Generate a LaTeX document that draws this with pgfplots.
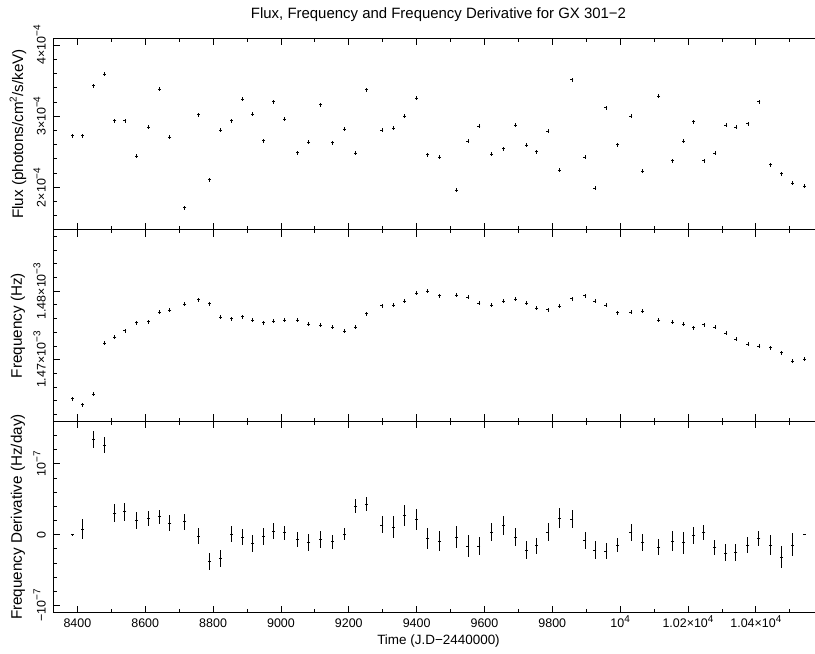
\documentclass[border=0pt]{standalone}
\usepackage{fontspec}
\setmainfont{Liberation Sans}
\usepackage{pgfplots}
\usepackage{pgfplotstable}
\pgfplotsset{compat=1.18}

% raised exponent, a little larger than \textsuperscript
\newcommand\sx[1]{\raisebox{0.42em}{\fontsize{10}{10}\selectfont #1}}

% time, flux, spin frequency, frequency derivative and its error
\pgfplotstableread{
t       flux      freq         dnu        dnuerr
8385.3  2.728e-4  1.464312e-3   0.000e-7  0.010e-7
8413.9  2.723e-4  1.463437e-3   0.080e-7  0.140e-7
8446.3  3.427e-4  1.464939e-3   1.348e-7  0.117e-7
8479.6  3.587e-4  1.472375e-3   1.263e-7  0.115e-7
8510.2  2.939e-4  1.473249e-3   0.306e-7  0.122e-7
8540.1  2.939e-4  1.474226e-3   0.324e-7  0.127e-7
8573.9  2.437e-4  1.475393e-3   0.207e-7  0.120e-7
8608.4  2.849e-4  1.475539e-3   0.231e-7  0.108e-7
8641.7  3.376e-4  1.476894e-3   0.254e-7  0.100e-7
8672.6  2.704e-4  1.477230e-3   0.165e-7  0.110e-7
8716.5  1.714e-4  1.478105e-3   0.183e-7  0.110e-7
8755.7  3.018e-4  1.478746e-3  -0.018e-7  0.108e-7
8788.1  2.108e-4  1.478163e-3  -0.380e-7  0.117e-7
8821.4  2.799e-4  1.476165e-3  -0.333e-7  0.120e-7
8853.5  2.934e-4  1.475976e-3   0.010e-7  0.113e-7
8885.4  3.235e-4  1.476268e-3  -0.032e-7  0.115e-7
8916.9  3.028e-4  1.475772e-3  -0.127e-7  0.124e-7
8947.3  2.658e-4  1.475393e-3  -0.023e-7  0.120e-7
8977.6  3.201e-4  1.475582e-3   0.052e-7  0.108e-7
9009.8  2.954e-4  1.475728e-3   0.028e-7  0.100e-7
9047.5  2.489e-4  1.475772e-3  -0.070e-7  0.108e-7
9081.9  2.634e-4  1.475189e-3  -0.113e-7  0.124e-7
9117.3  3.159e-4  1.474999e-3  -0.070e-7  0.117e-7
9151.5  2.630e-4  1.474707e-3  -0.099e-7  0.100e-7
9186.8  2.813e-4  1.474124e-3   0.010e-7  0.089e-7
9219.3  2.479e-4  1.474707e-3   0.404e-7  0.094e-7
9251.7  3.370e-4  1.476705e-3   0.432e-7  0.094e-7
9297.9  2.803e-4  1.477871e-3   0.137e-7  0.120e-7
9330.4  2.827e-4  1.477959e-3   0.108e-7  0.155e-7
9364.8  3.000e-4  1.478542e-3   0.268e-7  0.148e-7
9399.0  3.249e-4  1.479708e-3   0.217e-7  0.146e-7
9432.6  2.461e-4  1.480000e-3  -0.051e-7  0.150e-7
9468.0  2.427e-4  1.479329e-3  -0.089e-7  0.146e-7
9516.9  1.962e-4  1.479373e-3  -0.032e-7  0.153e-7
9551.4  2.652e-4  1.479081e-3  -0.159e-7  0.150e-7
9583.8  2.863e-4  1.478250e-3  -0.159e-7  0.130e-7
9621.3  2.465e-4  1.477959e-3   0.038e-7  0.130e-7
9655.4  2.545e-4  1.478498e-3   0.132e-7  0.134e-7
9690.8  2.873e-4  1.478834e-3  -0.032e-7  0.130e-7
9723.2  2.596e-4  1.478250e-3  -0.216e-7  0.122e-7
9753.9  2.503e-4  1.477478e-3  -0.155e-7  0.115e-7
9787.2  2.793e-4  1.477288e-3   0.038e-7  0.131e-7
9820.5  2.244e-4  1.477769e-3   0.231e-7  0.141e-7
9857.9  3.511e-4  1.478892e-3   0.221e-7  0.122e-7
9896.2  2.423e-4  1.479329e-3  -0.085e-7  0.124e-7
9925.7  1.990e-4  1.478498e-3  -0.216e-7  0.127e-7
9958.1  3.117e-4  1.477959e-3  -0.230e-7  0.110e-7
9992.6  2.601e-4  1.476851e-3  -0.145e-7  0.100e-7
10031.8 2.996e-4  1.476938e-3   0.028e-7  0.122e-7
10066.2 2.230e-4  1.477040e-3  -0.113e-7  0.117e-7
10113.4 3.282e-4  1.475772e-3  -0.178e-7  0.110e-7
10154.7 2.376e-4  1.475436e-3  -0.089e-7  0.146e-7
10185.9 2.652e-4  1.475145e-3  -0.113e-7  0.153e-7
10216.6 2.920e-4  1.474664e-3  -0.005e-7  0.120e-7
10246.9 2.376e-4  1.475101e-3   0.028e-7  0.110e-7
10279.3 2.483e-4  1.474751e-3  -0.183e-7  0.108e-7
10311.7 2.873e-4  1.473833e-3  -0.258e-7  0.120e-7
10341.2 2.845e-4  1.473002e-3  -0.254e-7  0.124e-7
10376.6 2.897e-4  1.472229e-3  -0.145e-7  0.110e-7
10409.0 3.201e-4  1.471981e-3  -0.051e-7  0.108e-7
10443.4 2.320e-4  1.471748e-3  -0.145e-7  0.136e-7
10474.7 2.193e-4  1.471019e-3  -0.314e-7  0.155e-7
10507.1 2.061e-4  1.469750e-3  -0.145e-7  0.162e-7
10542.5 2.014e-4  1.470042e-3   0.005e-7  0.010e-7
}\gxdata

\pgfplotsset{
  gxpanel/.style={
    scale only axis, width=770.4bp, height=191.5bp,
    xmin=8329, xmax=10600,
    xtick={8400,8600,8800,9000,9200,9400,9600,9800,10000,10200,10400},
    minor xtick={8500,8700,8900,9100,9300,9500,9700,9900,10100,10300,10500},
    scaled x ticks=false, scaled y ticks=false,
    tick align=inside,
    major tick length=7bp, minor tick length=3.5bp,
    every tick/.style={black, line width=0.8bp},
    axis line style={line width=0.9bp},
    tick label style={font=\fontsize{12.5}{14}\selectfont},
    label style={font=\fontsize{15.3}{17}\selectfont},
    yticklabel style={xshift=-4bp, rotate=90, anchor=south},
    ylabel style={at={(axis description cs:-0.0458,0.5)}, anchor=center},
    xticklabel style={text height=9bp, text depth=0pt, yshift=-2.5bp},
  },
  gxpoints/.style={black, only marks, mark=-, mark size=1.5bp,
    mark options={line width=0.8bp}},
}

\begin{document}
\begin{tikzpicture}
% frequency derivative
\begin{axis}[gxpanel, at={(0,0)},
    ymin=-1.103e-7, ymax=1.601e-7,
    ytick={-1e-7,0,1e-7},
    yticklabels={−10\sx{−7},0,10\sx{−7}},
    minor ytick={-0.8e-7,-0.6e-7,-0.4e-7,-0.2e-7,0.2e-7,0.4e-7,0.6e-7,0.8e-7,1.2e-7,1.4e-7,1.6e-7},
    xticklabels={8400,8600,8800,9000,9200,9400,9600,9800,10\sx{4},1.02×10\sx{4},1.04×10\sx{4}},
    xlabel={Time (J.D−2440000)},
    xlabel style={at={(axis description cs:0.5,0)}, anchor=center, yshift=-28.2bp,
      font=\fontsize{13.5}{16}\selectfont},
    ylabel={Frequency Derivative (Hz/day)}]
\addplot[gxpoints, error bars/.cd, y dir=both, y explicit, error mark=none,
    error bar style={line width=0.9bp}]
  table[x=t, y=dnu, y error=dnuerr] {\gxdata};
\end{axis}
% spin frequency
\begin{axis}[gxpanel, at={(0,191.5bp)},
    ymin=1.4610e-3, ymax=1.48895e-3,
    ytick={1.47e-3,1.48e-3},
    yticklabels={1.47×10\sx{−3},1.48×10\sx{−3}},
    minor ytick={1.462e-3,1.464e-3,1.466e-3,1.468e-3,1.472e-3,1.474e-3,1.476e-3,1.478e-3,1.482e-3,1.484e-3,1.486e-3,1.488e-3},
    xticklabels={},
    ylabel={Frequency (Hz)}]
\addplot[gxpoints, error bars/.cd, y dir=both, y fixed=3e-7, error mark=none,
    error bar style={line width=0.8bp}]
  table[x=t, y=freq] {\gxdata};
\end{axis}
% flux
\begin{axis}[gxpanel, at={(0,383bp)},
    ymin=1.404e-4, ymax=4.094e-4,
    ytick={2e-4,3e-4,4e-4},
    yticklabels={2×10\sx{−4},3×10\sx{−4},4×10\sx{−4}},
    minor ytick={1.6e-4,1.8e-4,2.2e-4,2.4e-4,2.6e-4,2.8e-4,3.2e-4,3.4e-4,3.6e-4,3.8e-4},
    xticklabels={},
    ylabel={Flux (photons/cm\sx{2}/s/keV)},
    title={Flux, Frequency and Frequency Derivative for GX 301−2},
    title style={at={(axis description cs:0.5,1)}, anchor=center, yshift=17.5bp,
      font=\fontsize{15}{17}\selectfont}]
\addplot[gxpoints, error bars/.cd, y dir=both, y fixed=2.8e-6, error mark=none,
    error bar style={line width=0.8bp}]
  table[x=t, y=flux] {\gxdata};
\end{axis}
\pgfresetboundingbox
\path[use as bounding box] (-53.3bp,-41.2bp) rectangle (761.7bp,612.8bp);
\end{tikzpicture}
\end{document}
